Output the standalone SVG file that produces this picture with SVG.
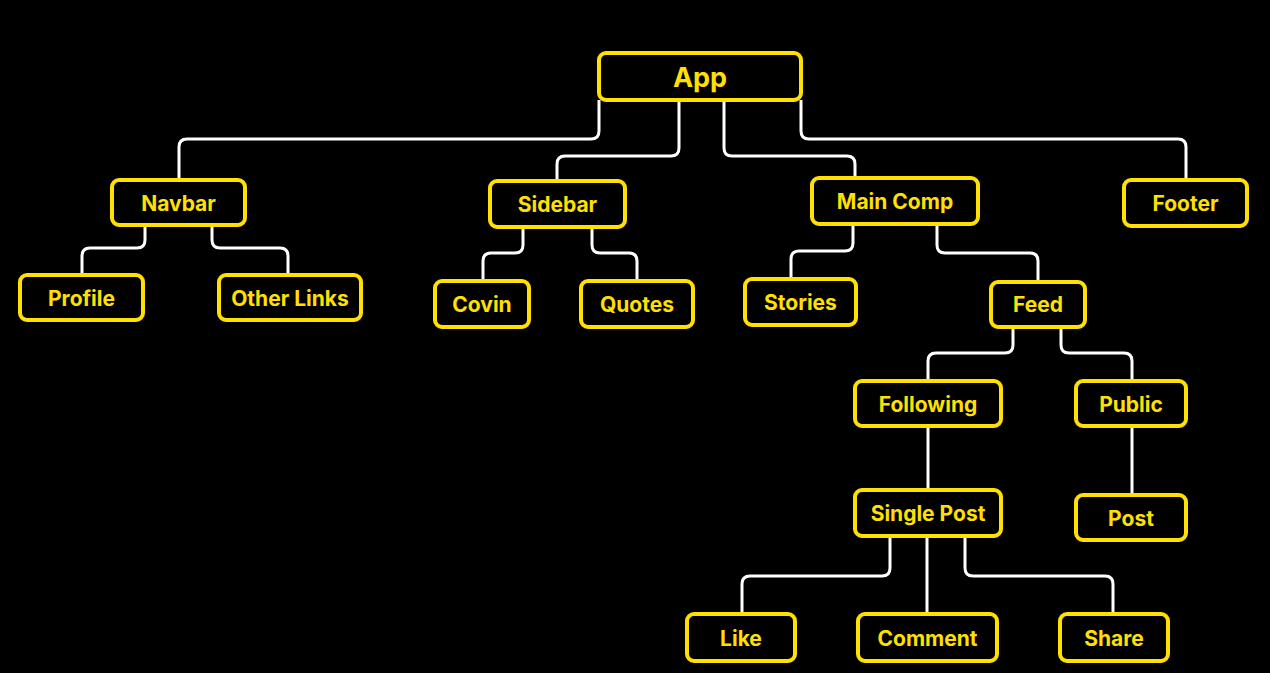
<svg xmlns="http://www.w3.org/2000/svg" width="1270" height="673" viewBox="0 0 1270 673">
<style>
.bg{fill:#000}
.box{fill:#000;stroke:#FFE000;stroke-width:4}
.lbl{fill:#FFE000;font-family:Inter,"Liberation Sans",sans-serif;font-weight:700;font-size:21px;text-anchor:middle;dominant-baseline:central}
.big{font-size:27px}
.con{fill:none;stroke:#fff;stroke-width:3}
</style>
<rect class="bg" x="0" y="0" width="1270" height="673"/>
<g id="connectors">
<path class="con" d="M599,100 V131 Q599,139 591,139 H187 Q179,139 179,147 V180"/>
<path class="con" d="M679,100 V148 Q679,156 671,156 H565 Q557,156 557,164 V181"/>
<path class="con" d="M724,100 V148 Q724,156 732,156 H847 Q855,156 855,164 V178"/>
<path class="con" d="M801,100 V131 Q801,139 809,139 H1178 Q1186,139 1186,147 V180"/>
<path class="con" d="M145,225 V240 Q145,248 137,248 H90 Q82,248 82,256 V275"/>
<path class="con" d="M212,225 V240 Q212,248 220,248 H280 Q288,248 288,256 V275"/>
<path class="con" d="M523,227 V245 Q523,253 515,253 H491 Q483,253 483,261 V281"/>
<path class="con" d="M592,227 V245 Q592,253 600,253 H629 Q637,253 637,261 V281"/>
<path class="con" d="M853,224 V243 Q853,251 845,251 H799 Q791,251 791,259 V279"/>
<path class="con" d="M937,224 V245 Q937,253 945,253 H1030 Q1038,253 1038,261 V282"/>
<path class="con" d="M1013,327 V345 Q1013,353 1005,353 H936 Q928,353 928,361 V381"/>
<path class="con" d="M1061,327 V345 Q1061,353 1069,353 H1124 Q1132,353 1132,361 V381"/>
<path class="con" d="M928,426 V490"/>
<path class="con" d="M1132,426 V495"/>
<path class="con" d="M890,536 V568 Q890,576 882,576 H750 Q742,576 742,584 V614"/>
<path class="con" d="M927,536 V614"/>
<path class="con" d="M965,536 V568 Q965,576 973,576 H1105 Q1113,576 1113,584 V614"/>
</g>
<g id="app"><rect class="box" x="599" y="53" width="202" height="47" rx="7"/><text class="lbl big" x="700" y="77">App</text></g>
<g id="navbar"><rect class="box" x="112" y="180" width="133" height="45" rx="7"/><text class="lbl" x="178.5" y="203">Navbar</text></g>
<g id="profile"><rect class="box" x="20" y="275" width="123" height="45" rx="7"/><text class="lbl" x="81.5" y="298">Profile</text></g>
<g id="otherlinks"><rect class="box" x="219" y="275" width="142" height="45" rx="7"/><text class="lbl" x="290" y="298">Other Links</text></g>
<g id="sidebar"><rect class="box" x="490" y="181" width="135" height="46" rx="7"/><text class="lbl" x="557.5" y="204.5">Sidebar</text></g>
<g id="covin"><rect class="box" x="435" y="281" width="94" height="46" rx="7"/><text class="lbl" x="482" y="304.5">Covin</text></g>
<g id="quotes"><rect class="box" x="581" y="281" width="112" height="46" rx="7"/><text class="lbl" x="637" y="304.5">Quotes</text></g>
<g id="maincomp"><rect class="box" x="812" y="178" width="166" height="46" rx="7"/><text class="lbl" x="895" y="201.5">Main Comp</text></g>
<g id="stories"><rect class="box" x="745" y="279" width="111" height="46" rx="7"/><text class="lbl" x="800.5" y="302.5">Stories</text></g>
<g id="feed"><rect class="box" x="991" y="282" width="94" height="45" rx="7"/><text class="lbl" x="1038" y="304.5">Feed</text></g>
<g id="footer"><rect class="box" x="1124" y="180" width="123" height="46" rx="7"/><text class="lbl" x="1185.5" y="203.5">Footer</text></g>
<g id="following"><rect class="box" x="855" y="381" width="146" height="45" rx="7"/><text class="lbl" x="928" y="404">Following</text></g>
<g id="public"><rect class="box" x="1076" y="381" width="110" height="45" rx="7"/><text class="lbl" x="1131" y="404">Public</text></g>
<g id="singlepost"><rect class="box" x="855" y="490" width="146" height="46" rx="7"/><text class="lbl" x="928" y="513.5">Single Post</text></g>
<g id="post"><rect class="box" x="1076" y="495" width="110" height="45" rx="7"/><text class="lbl" x="1131" y="518">Post</text></g>
<g id="like"><rect class="box" x="687" y="614" width="108" height="47" rx="7"/><text class="lbl" x="741" y="638">Like</text></g>
<g id="comment"><rect class="box" x="858" y="614" width="139" height="47" rx="7"/><text class="lbl" x="927.5" y="638">Comment</text></g>
<g id="share"><rect class="box" x="1060" y="614" width="108" height="47" rx="7"/><text class="lbl" x="1114" y="638">Share</text></g>
</svg>
